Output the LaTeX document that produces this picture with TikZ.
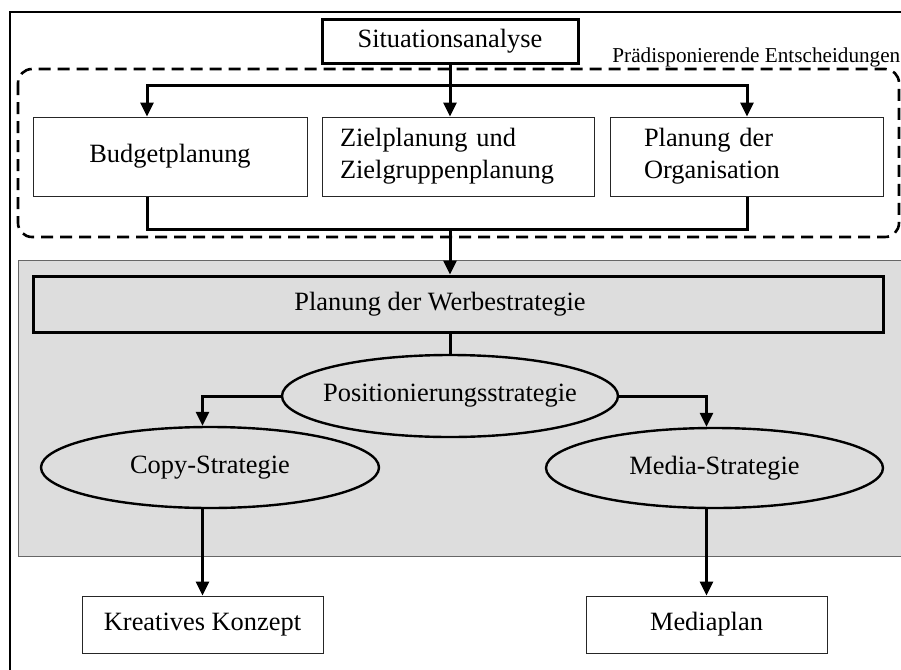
\documentclass[tikz,border=0pt]{standalone}
\usepackage{fontspec}
\setmainfont{Liberation Serif}
\usetikzlibrary{arrows.meta,shapes.geometric}
\definecolor{bggray}{gray}{0.865}

\begin{document}
\begin{tikzpicture}[x=0.5pt, y=-0.5pt,
    txt/.style={font=\fontsize{13.2}{16}\selectfont},
    plan/.style={txt, rectangle, draw=black!85, line width=0.5pt,
      minimum height=39.5pt, inner sep=0pt},
    strong/.style={txt, rectangle, draw, line width=1.5pt, inner sep=0pt},
    oval/.style={txt, ellipse, draw, line width=1.2pt, fill=bggray, inner sep=0pt},
    result/.style={txt, rectangle, draw=black!85, line width=0.5pt,
      minimum width=120.5pt, minimum height=28.5pt, inner sep=0pt},
    link/.style={line width=1.5pt},
    flow/.style={link, -{Triangle[length=7pt,width=6.5pt]}}]
    \useasboundingbox (0,0) rectangle (901,670);
    % frame
    \draw[line width=1pt] (10,12) rectangle (906,676);
    % predisposing decisions
    \draw[line width=1.3pt, dash pattern=on 6pt off 3.5pt, rounded corners=7pt]
    (18,69) rectangle (899,237);
    \node[anchor=base west, inner sep=0pt, font=\fontsize{10.6}{12}\selectfont]
    (pred) at (612,62) {Prädisponierende Entscheidungen};
    % strategy area
    \draw[draw=black!60, line width=0.5pt, fill=bggray] (18,260) rectangle (906,556);
    % boxes
    \node[strong, minimum width=128pt, minimum height=22pt] (sit) at (450,41)
    {Situationsanalyse};
    \node[plan, minimum width=137pt] (budget) at (170,156.5) {Budgetplanung};
    \node[plan, text width=118pt, inner xsep=9pt, align=left] (ziel) at (458,156.5)
    {Zielplanung und\\Zielgruppenplanung};
    \node[plan, text width=102.5pt, inner xsep=17pt, align=left] (orga) at (746.5,156.5)
    {Planung der\\Organisation};
    \node[strong, fill=bggray, minimum width=425pt, minimum height=28pt] (werbe)
    at (458,304) {Planung der Werbestrategie\hspace*{18pt}};
    % strategies
    \node[oval, inner xsep=-5pt, minimum width=168pt, minimum height=41pt] (pos)
    at (450,396) {Positionierungsstrategie};
    \node[oval, minimum width=169pt, minimum height=40.5pt] (copy) at (210,467.5)
    {Copy-Strategie};
    \node[oval, minimum width=168.5pt, minimum height=40pt] (media) at (714.5,468)
    {Media-Strategie};
    % results
    \node[result] (kreativ) at (202.5,624.5) {Kreatives Konzept};
    \node[result] (mplan)   at (706.5,624.5) {Mediaplan};
    % branch points
    \coordinate (fork)  at (450,85);
    \coordinate (forkl) at (147,85);
    \coordinate (forkr) at (747,85);
    \coordinate (join)  at (450,229);
    % draw connectors
    \draw[flow] (sit) -- (fork |- ziel.north);
    \draw[flow] (fork) -| (forkl |- budget.north);
    \draw[flow] (fork) -| (forkr |- orga.north);
    \draw[link] (forkl |- budget.south) |- (join) -| (forkr |- orga.south);
    \draw[flow] (join) -- (join |- werbe.north);
    \draw[link] (pos.north |- werbe.south) -- (pos.north);
    \draw[flow] (pos.west) -| (kreativ.north |- copy.north);
    \draw[flow] (pos.east) -| (mplan.north |- media.north);
    \draw[flow] (kreativ.north |- copy.south) -- (kreativ.north);
    \draw[flow] (mplan.north |- media.south) -- (mplan.north);
\end{tikzpicture}
\end{document}
